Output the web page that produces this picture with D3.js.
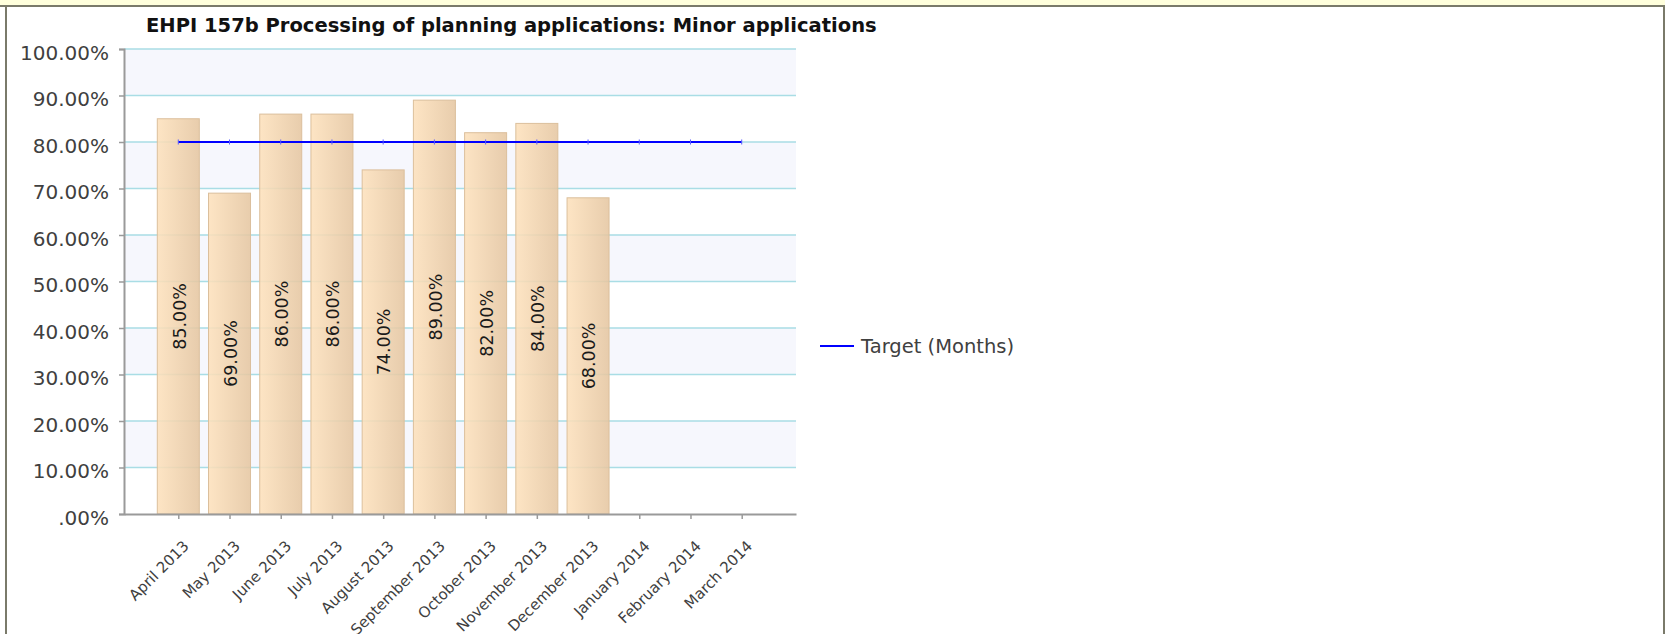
<!DOCTYPE html>
<html>
<head>
<meta charset="utf-8">
<script src="https://cdn.jsdelivr.net/npm/d3@7"></script>
<style>
  body { margin: 0; background: #fff; }
  svg { display: block; }
  text { font-family: "DejaVu Sans", Verdana, sans-serif; }
</style>
</head>
<body>
<div id="container"></div>
<script>
// chart values
var months = ["April 2013", "May 2013", "June 2013", "July 2013", "August 2013", "September 2013",
  "October 2013", "November 2013", "December 2013", "January 2014", "February 2014", "March 2014"];
var actual = [85, 69, 86, 86, 74, 89, 82, 84, 68, null, null, null];
var target = [80, 80, 80, 80, 80, 80, 80, 80, 80, 80, 80, 80];
var yTicks = [0, 10, 20, 30, 40, 50, 60, 70, 80, 90, 100];
var title = "EHPI 157b Processing of planning applications: Minor applications";
var legendLabel = "Target (Months)";

var width = 1665, height = 634;
var plotLeft = 124, plotRight = 796, plotTop = 49, plotBottom = 514;

var svg = d3.select("#container").append("svg")
  .attr("width", width).attr("height", height);

// page frame
svg.append("rect").attr("x", 0).attr("y", 0).attr("width", width).attr("height", 5).attr("fill", "#ffffdc");
svg.append("rect").attr("x", 0).attr("y", 5).attr("width", width).attr("height", 2).attr("fill", "#7a7a6a");
svg.append("rect").attr("x", 5).attr("y", 7).attr("width", 2).attr("height", height - 7).attr("fill", "#7a7a6a");
svg.append("rect").attr("x", width - 2).attr("y", 7).attr("width", 2).attr("height", height - 7).attr("fill", "#7a7a6a");

var x = d3.scalePoint().domain(months).range([plotLeft, plotRight]).padding(1.06);
var y = d3.scaleLinear().domain([0, 100]).range([plotBottom, plotTop]);

var defs = svg.append("defs");
var grad = defs.append("linearGradient").attr("id", "barGrad")
  .attr("x1", "0%").attr("x2", "100%").attr("y1", "0%").attr("y2", "0%");
grad.append("stop").attr("offset", "0%").attr("stop-color", "#fde1bc");
grad.append("stop").attr("offset", "100%").attr("stop-color", "#e5c6a1");

// alternating bands (10-20, 30-40, ... 90-100)
svg.append("g").selectAll("rect")
  .data(yTicks.filter(function(d) { return d > 0 && (d / 10) % 2 == 0; }))
  .join("rect")
  .attr("x", plotLeft).attr("width", plotRight - plotLeft)
  .attr("y", function(d) { return y(d); })
  .attr("height", function(d) { return y(d - 10) - y(d); })
  .attr("fill", "#f6f7fd");

// grid lines
svg.append("g").selectAll("line")
  .data(yTicks.filter(function(d) { return d > 0; }))
  .join("line")
  .attr("x1", plotLeft).attr("x2", plotRight)
  .attr("y1", function(d) { return y(d); }).attr("y2", function(d) { return y(d); })
  .attr("stroke", "#a9dde5").attr("stroke-width", 1.5);

// bars
var barW = 42;
var bars = months.map(function(m, i) { return { month: m, value: actual[i] }; })
  .filter(function(d) { return d.value != null; });

svg.append("g").selectAll("rect")
  .data(bars)
  .join("rect")
  .attr("x", function(d) { return x(d.month) - barW / 2; })
  .attr("width", barW)
  .attr("y", function(d) { return y(d.value); })
  .attr("height", function(d) { return y(0) - y(d.value); })
  .attr("fill", "url(#barGrad)")
  .attr("fill-opacity", 0.88)
  .attr("stroke", "#dbbf9c")
  .attr("stroke-width", 1);

// bar value labels
svg.append("g").selectAll("text")
  .data(bars)
  .join("text")
  .attr("transform", function(d) {
    return "translate(" + (x(d.month) + 1) + "," + ((y(d.value) + y(0)) / 2) + ") rotate(-90)";
  })
  .attr("text-anchor", "middle")
  .attr("dy", "0.36em")
  .style("font-size", "17.5px")
  .attr("fill", "#1a1a1a")
  .text(function(d) { return d.value.toFixed(2) + "%"; });

// axes
var yAxis = svg.append("g")
  .attr("transform", "translate(" + plotLeft + ",0)")
  .call(d3.axisLeft(y).tickValues(yTicks).tickSize(5).tickPadding(10)
    .tickFormat(function(d) { return d == 0 ? ".00%" : d.toFixed(2) + "%"; }));
yAxis.select(".domain").attr("stroke", "#9a9a9a").attr("stroke-width", 2);
yAxis.selectAll(".tick line").attr("stroke", "#9a9a9a").attr("stroke-width", 1.5);
yAxis.selectAll("text").style("font-size", "20px").attr("fill", "#404040").attr("dy", "0.5em");

var xAxis = svg.append("g")
  .attr("transform", "translate(0," + plotBottom + ")")
  .call(d3.axisBottom(x).tickSize(5).tickSizeOuter(0));
xAxis.select(".domain").attr("stroke", "#9a9a9a").attr("stroke-width", 2);
xAxis.selectAll(".tick line").attr("stroke", "#9a9a9a").attr("stroke-width", 1.5);
xAxis.selectAll("text")
  .attr("x", 0).attr("y", 0).attr("dy", 0)
  .attr("text-anchor", "end")
  .attr("transform", "translate(11,33) rotate(-45)")
  .style("font-size", "15px")
  .attr("fill", "#404040");

// target line
var line = d3.line()
  .x(function(d, i) { return x(months[i]); })
  .y(function(d) { return y(d); });
svg.append("path")
  .datum(target)
  .attr("d", line)
  .attr("fill", "none")
  .attr("stroke", "#0000ff")
  .attr("stroke-width", 2.2);
svg.append("g").selectAll("line")
  .data(target)
  .join("line")
  .attr("x1", function(d, i) { return x(months[i]); })
  .attr("x2", function(d, i) { return x(months[i]); })
  .attr("y1", function(d) { return y(d) - 2.5; })
  .attr("y2", function(d) { return y(d) + 2.5; })
  .attr("stroke", "#5a5aff").attr("stroke-width", 1);

// title, fitted to the reference width
var t = svg.append("text")
  .attr("x", 146).attr("y", 32)
  .style("font-size", "20px").style("font-weight", "bold")
  .attr("fill", "#111")
  .text(title);
var len = t.node().getComputedTextLength();
t.style("font-size", (20 * 731 / len) + "px");

// legend
svg.append("line")
  .attr("x1", 820).attr("x2", 854).attr("y1", 346).attr("y2", 346)
  .attr("stroke", "#0000ff").attr("stroke-width", 2);
svg.append("text")
  .attr("x", 861).attr("y", 346).attr("dy", "0.36em")
  .style("font-size", "19.5px")
  .attr("fill", "#404040")
  .text(legendLabel);
</script>
</body>
</html>
